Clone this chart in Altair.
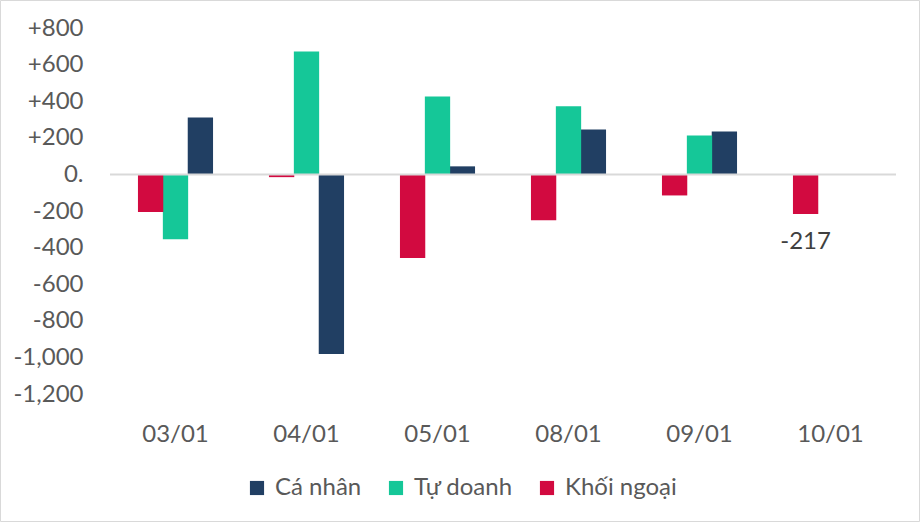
import altair as alt
import pandas as pd

# Net trading value by investor group, per session
dates = ["03/01", "04/01", "05/01", "08/01", "09/01", "10/01"]
ca_nhan = [311, -982, 44, 246, 235, 0]
tu_doanh = [-354, 672, 426, 372, 213, 0]
khoi_ngoai = [-206, -15, -457, -251, -115, -217]

series = ["Cá nhân", "Tự doanh", "Khối ngoại"]
colors = ["#213F63", "#15C798", "#D20A40"]
bar_order = {"Khối ngoại": 0, "Tự doanh": 1, "Cá nhân": 2}
y_ticks = list(range(-1200, 801, 200))

rows = []
for name, vals in zip(series, [ca_nhan, tu_doanh, khoi_ngoai]):
    for d, v in zip(dates, vals):
        rows.append({"date": d, "group": name, "value": v, "pos": bar_order[name]})
df = pd.DataFrame(rows)

FONT = "Lato"
GREY = "#595959"

x_axis = alt.Axis(
    title=None, labelAngle=0, domain=False, ticks=False,
    labelPadding=28, labelFontSize=24, labelColor=GREY, labelFont=FONT,
)
y_axis = alt.Axis(
    title=None, domain=False, ticks=False, grid=False,
    values=y_ticks, labelOverlap=False,
    labelPadding=27, labelFontSize=24, labelColor=GREY, labelFont=FONT,
    labelExpr="datum.value == 0 ? '0.' : (datum.value > 0 ? '+' : '') + "
              "replace(format(datum.value, ','), '\u2212', '-')",
)
x_scale = alt.Scale(paddingInner=0.43, paddingOuter=0.215)
y_scale = alt.Scale(domain=[-1200, 800], nice=False)

bars = alt.Chart(df).mark_bar(size=25.3).encode(
    x=alt.X("date:N", sort=dates, scale=x_scale, axis=x_axis),
    y=alt.Y("value:Q", scale=y_scale, axis=y_axis),
    xOffset=alt.XOffset("pos:O", scale=alt.Scale(paddingInner=0, paddingOuter=0)),
    color=alt.Color(
        "group:N",
        scale=alt.Scale(domain=series, range=colors),
        legend=alt.Legend(
            title=None, orient="none", direction="horizontal",
            legendX=135, legendY=448,
            symbolType="square", symbolSize=200, symbolStrokeWidth=0,
            labelFontSize=24, labelColor=GREY, labelFont=FONT,
            labelOffset=6, columnPadding=22,
        ),
    ),
)

zero = alt.Chart(pd.DataFrame({"v": [0]})).mark_rule(
    color="#D9D9D9", strokeWidth=2
).encode(y=alt.Y("v:Q", scale=y_scale, axis=y_axis))

label_df = df[(df["date"] == "10/01") & (df["group"] == "Khối ngoại")]
label = alt.Chart(label_df).transform_calculate(
    txt="'' + datum.value"
).mark_text(
    baseline="top", dy=16, fontSize=24, font=FONT, color="#404040"
).encode(
    x=alt.X("date:N", sort=dates, scale=x_scale, axis=x_axis),
    xOffset=alt.XOffset("pos:O", scale=alt.Scale(domain=[0, 1, 2])),
    y=alt.Y("value:Q", scale=y_scale, axis=y_axis),
    text="txt:N",
)

frame = alt.Chart(pd.DataFrame({"v": [0]})).mark_rect(
    fill=None, stroke="#D9D9D9", strokeWidth=1
).encode(
    x=alt.value(-109.5), x2=alt.value(809.5),
    y=alt.value(-27.5), y2=alt.value(493.5),
)

chart = alt.layer(bars, zero, label, frame).properties(
    width=786,
    height=366,
    padding={"left": 110, "top": 28, "right": 24, "bottom": 128},
    autosize=alt.AutoSizeParams(type="none"),
    background="white",
).configure_view(stroke=None)

chart.save("out.html", embed_options={"renderer": "svg", "actions": False})
